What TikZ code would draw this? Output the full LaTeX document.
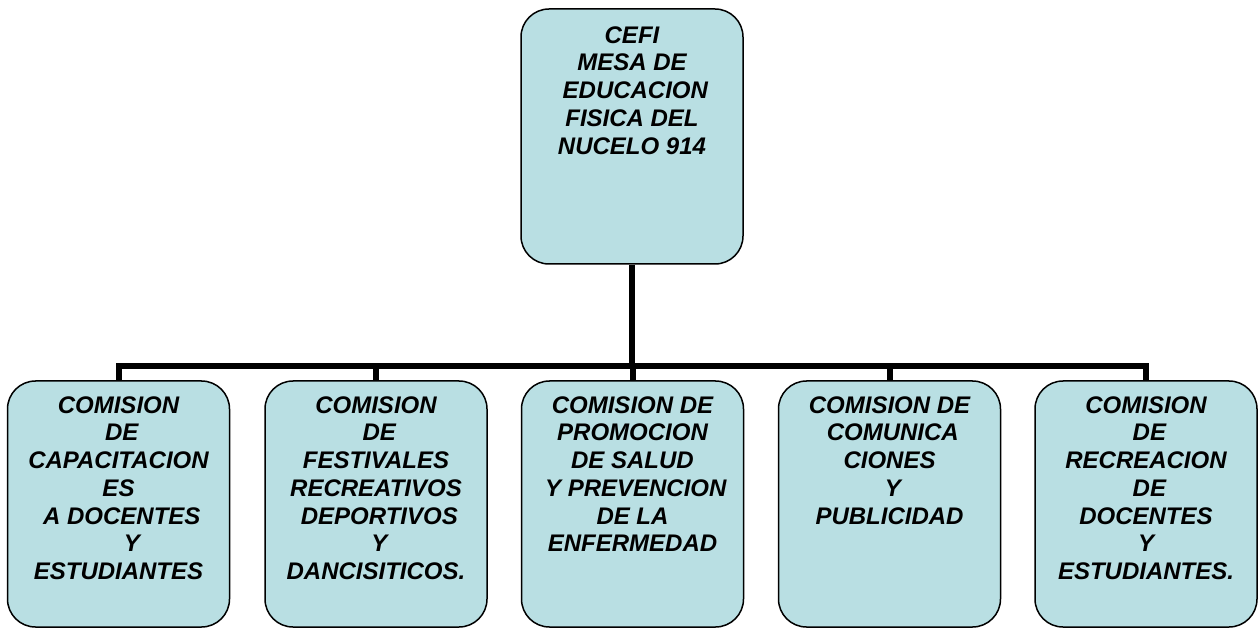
\documentclass[tikz,border=0pt]{standalone}
\usepackage{fontspec}
\setmainfont{Liberation Sans}
\usetikzlibrary{positioning}
\definecolor{boxblue}{RGB}{185,223,227}

\begin{document}
\begin{tikzpicture}[
    x=1pt, y=-1pt,
    box/.style={rectangle, draw, line width=1.5pt, rounded corners=28pt, fill=boxblue, minimum width=222pt, inner sep=0pt},
    txt/.style={align=center, inner sep=0pt, font=\fontsize{24}{27.7}\selectfont\bfseries\itshape},
    link/.style={line width=6pt}
]
\useasboundingbox (0,0) rectangle (1259,628);

\node[box, minimum height=255pt] (cefi) at (632,136.5) {};
\node[box, minimum height=246pt] (com1) at (118.5,504) {};
\node[box, minimum height=246pt] (com2) at (376,504) {};
\node[box, minimum height=246pt] (com3) at (632.5,504) {};
\node[box, minimum height=246pt] (com4) at (889.5,504) {};
\node[box, minimum height=246pt] (com5) at (1146,504) {};

\node[txt, below=18pt of cefi.north] (tcefi) {CEFI\\MESA DE\\~EDUCACION\\FISICA DEL\\NUCELO 914};
\node[txt, below=16pt of com1.north] (tcom1) {COMISION\\~DE\\CAPACITACION\\ES\\~A DOCENTES\\~~~~Y\\ESTUDIANTES};
\node[txt, below=16pt of com2.north] (tcom2) {COMISION\\~DE\\FESTIVALES\\RECREATIVOS\\~DEPORTIVOS\\~Y\\DANCISITICOS.};
\node[txt, below=16pt of com3.north] (tcom3) {COMISION DE\\PROMOCION\\DE SALUD\\~Y PREVENCION\\DE LA\\ENFERMEDAD};
\node[txt, below=16pt of com4.north] (tcom4) {COMISION DE\\~COMUNICA\\CIONES\\~Y\\PUBLICIDAD};
\node[txt, below=16pt of com5.north] (tcom5) {COMISION\\~DE\\RECREACION\\~DE\\DOCENTES\\Y\\ESTUDIANTES.};

% Lines
\coordinate (bus) at (632,366);
\draw[link] (cefi.south) -- (bus);
\foreach \c in {com1,com2,com3,com4,com5}
    \draw[link] (bus) -| (\c.north);

\end{tikzpicture}
\end{document}
